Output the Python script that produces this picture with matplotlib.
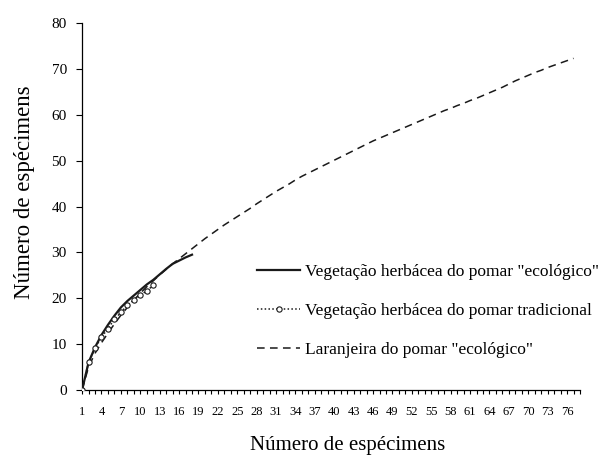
import matplotlib.pyplot as plt
from matplotlib.ticker import MultipleLocator, FixedLocator

plt.rcParams['font.family'] = ['Liberation Serif', 'DejaVu Serif']

# curvas de acumulação de espécies
# vegetação herbácea do pomar "ecológico"
herb_ecologico = [0, 6, 9.3, 12, 14.2, 16.2, 18, 19.4, 20.6, 21.8, 23, 24,
                  25.2, 26.4, 27.5, 28.2, 28.9, 29.5]
# vegetação herbácea do pomar tradicional
herb_tradicional = [0, 6, 9.1, 11.5, 13.4, 15.4, 16.9, 18.5, 19.6, 20.7, 21.6, 22.8]
# laranjeira do pomar "ecológico"
laranjeira = [0, 5, 8, 10.3, 12.4, 14.4, 16.3, 18, 19.6, 21.1,
              22.5, 23.8, 25.1, 26.3, 27.5, 28.6, 29.7, 30.8, 31.9, 33,
              34, 35, 36, 36.9, 37.8, 38.7, 39.6, 40.6, 41.5, 42.4,
              43.3, 44.1, 44.9, 45.8, 46.6, 47.3, 48, 48.7, 49.4, 50.1,
              50.8, 51.5, 52.2, 52.9, 53.6, 54.3, 54.9, 55.5, 56.1, 56.7,
              57.3, 57.9, 58.5, 59.1, 59.7, 60.3, 60.9, 61.4, 62, 62.5,
              63.1, 63.6, 64.2, 64.8, 65.4, 66, 66.7, 67.4, 68, 68.6,
              69.2, 69.7, 70.3, 70.8, 71.3, 71.8, 72.3]
n_categorias = 78

fig = plt.figure(figsize=(6.08, 4.57), dpi=100)
ax = fig.add_axes([0.135, 0.1466, 0.819, 0.803])

x1 = range(1, len(herb_ecologico) + 1)
x2 = range(1, len(herb_tradicional) + 1)
x3 = range(1, len(laranjeira) + 1)

ax.plot(x1, herb_ecologico, color='#1a1a1a', linestyle='-', linewidth=1.6,
        label='Vegetação herbácea do pomar "ecológico"', zorder=3)
ax.plot(x2, herb_tradicional, color='#1a1a1a', linestyle=(0, (1, 1.5)), linewidth=1.1,
        marker='o', markersize=3.8, markerfacecolor='white', markeredgewidth=0.8,
        label='Vegetação herbácea do pomar tradicional', zorder=4)
ax.plot(x3, laranjeira, color='#1a1a1a', linestyle=(0, (5, 3.5)), linewidth=1.1,
        label='Laranjeira do pomar "ecológico"', zorder=2)

ax.set_xlim(1, n_categorias)
ax.set_ylim(0, 80)
ax.xaxis.set_major_locator(FixedLocator(list(range(1, n_categorias, 3))))
ax.xaxis.set_minor_locator(FixedLocator(list(range(1, n_categorias + 1))))
ax.yaxis.set_major_locator(MultipleLocator(10))
ax.tick_params(axis='x', which='both', direction='out', length=3, width=0.8,
               labelsize=9, pad=8.5)
ax.tick_params(axis='y', which='major', direction='out', length=4.5, width=0.8,
               labelsize=11, pad=6.5)

for s in ['top', 'right']:
    ax.spines[s].set_visible(False)
for s in ['left', 'bottom']:
    ax.spines[s].set_linewidth(0.9)

ax.set_xlabel('Número de espécimens', fontsize=15)
ax.xaxis.set_label_coords(0.533, -0.125)
ax.set_ylabel('Número de espécimens', fontsize=16.5)
ax.yaxis.set_label_coords(-0.094, 0.54)

ax.legend(loc='center left', bbox_to_anchor=(0.351, 0.215), frameon=False,
          fontsize=12.5, handlelength=2.5, handletextpad=0.25, labelspacing=1.3,
          borderpad=0, borderaxespad=0)

fig.savefig('out.png', dpi=100)
